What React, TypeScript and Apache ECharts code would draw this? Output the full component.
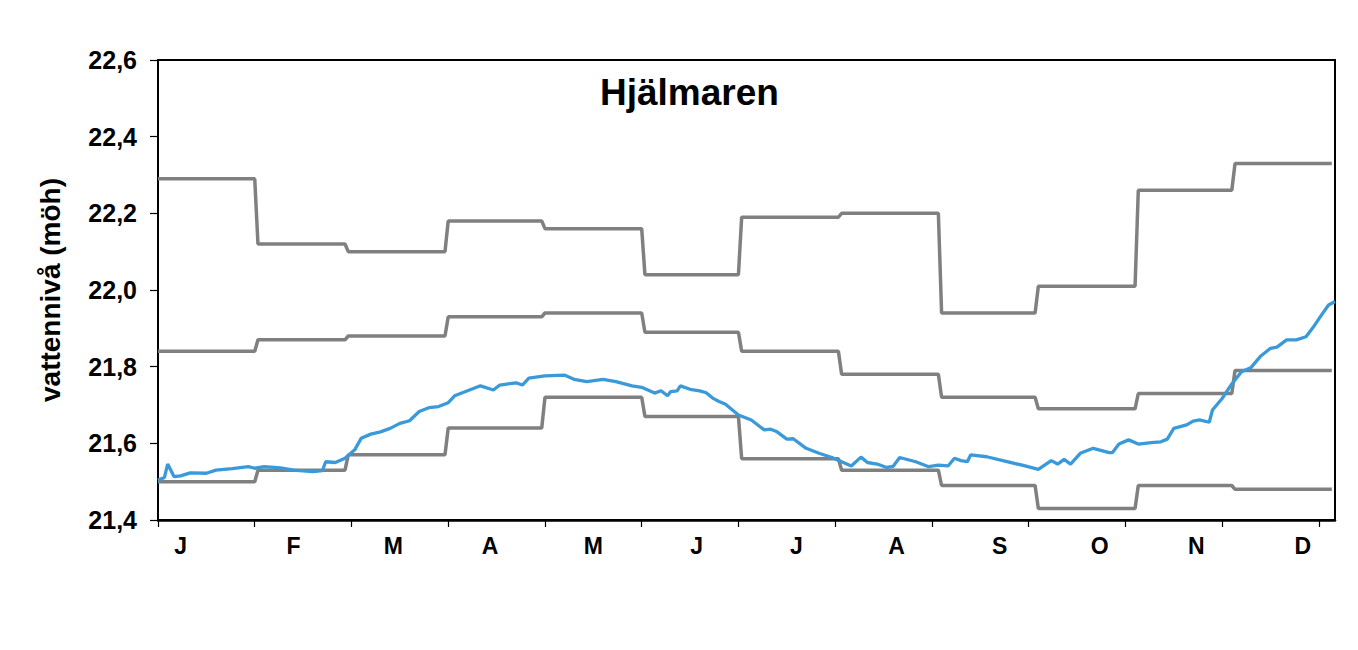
import React, { useEffect, useRef } from "react";
import * as echarts from "echarts";

const titleText = "Hjälmaren";
const yAxisName = "vattennivå (möh)";

// Day-of-year at which each month starts (non-leap year)
const monthStarts = [0, 31, 59, 90, 120, 151, 181, 212, 243, 273, 304, 334];
const yearEnd = 364;

// Monthly step values
const upperLevels = [22.29, 22.12, 22.10, 22.18, 22.16, 22.04, 22.19, 22.20, 21.94, 22.01, 22.26, 22.33];
const meanLevels = [21.84, 21.87, 21.88, 21.93, 21.94, 21.89, 21.84, 21.78, 21.72, 21.69, 21.73, 21.79];
const lowerLevels = [21.50, 21.53, 21.57, 21.64, 21.72, 21.67, 21.56, 21.53, 21.49, 21.43, 21.49, 21.48];

// Current year's daily level
const blueDays = [0, 2, 3, 5, 7, 10, 15, 18, 23, 28, 30, 33, 38, 42, 48, 51, 52, 55, 58, 61, 63, 66, 69, 72, 75, 78, 81, 84, 87, 90, 92, 96, 100, 104, 106, 111, 113, 115, 120, 126, 129, 133, 138, 142, 147, 150, 154, 156, 158, 159, 161, 162, 165, 168, 170, 172, 174, 176, 180, 184, 188, 190, 192, 195, 197, 201, 205, 209, 212, 215, 218, 220, 223, 226, 228, 230, 235, 239, 242, 245, 247, 249, 251, 252, 257, 262, 268, 273, 277, 279, 281, 283, 286, 290, 295, 296, 298, 301, 304, 308, 311, 313, 315, 319, 321, 323, 326, 327, 330, 333, 336, 339, 342, 345, 347, 350, 353, 356, 358, 361, 363, 365];
const blueLevels = [21.504, 21.511, 21.546, 21.513, 21.515, 21.523, 21.522, 21.530, 21.534, 21.539, 21.535, 21.539, 21.536, 21.530, 21.526, 21.529, 21.552, 21.550, 21.561, 21.583, 21.613, 21.624, 21.630, 21.639, 21.652, 21.659, 21.683, 21.693, 21.696, 21.706, 21.724, 21.737, 21.750, 21.739, 21.752, 21.758, 21.752, 21.770, 21.776, 21.778, 21.767, 21.761, 21.767, 21.761, 21.750, 21.746, 21.731, 21.737, 21.724, 21.735, 21.737, 21.750, 21.741, 21.737, 21.732, 21.718, 21.709, 21.702, 21.674, 21.661, 21.635, 21.637, 21.630, 21.611, 21.612, 21.587, 21.574, 21.563, 21.552, 21.541, 21.564, 21.550, 21.546, 21.537, 21.540, 21.563, 21.552, 21.539, 21.543, 21.541, 21.561, 21.555, 21.552, 21.570, 21.565, 21.555, 21.543, 21.532, 21.555, 21.546, 21.558, 21.546, 21.574, 21.587, 21.576, 21.576, 21.598, 21.609, 21.598, 21.602, 21.604, 21.611, 21.639, 21.648, 21.658, 21.661, 21.655, 21.687, 21.717, 21.755, 21.787, 21.798, 21.828, 21.848, 21.851, 21.870, 21.870, 21.878, 21.900, 21.937, 21.961, 21.970];

// Month labels and the day at which each is drawn
const monthLabels = ["J", "F", "M", "A", "M", "J", "J", "A", "S", "O", "N", "D"];
const monthLabelDays = [7, 42, 73, 103, 135, 167, 198, 229, 261, 292, 322, 355];

// Tick marks on the day axis
const tickDays = [0, 30, 60, 90, 120, 150, 180, 210, 240, 270, 300, 330, 360];

const X_MAX = 365;

function stepData(levels: number[]) {
  const out: number[][] = [];
  levels.forEach((v, i) => {
    const start = monthStarts[i];
    const end = i + 1 < monthStarts.length ? monthStarts[i + 1] - 1 : yearEnd;
    out.push([start, v]);
    out.push([end, v]);
  });
  return out;
}

export default function App() {
  const ref = useRef<HTMLDivElement>(null);
  useEffect(() => {
    if (!ref.current) return;
    const chart = echarts.init(ref.current, undefined, { renderer: "svg" });
    const dayCats = Array.from({ length: X_MAX + 1 }, (_, i) => String(i));
    const font = "'Liberation Sans', Arial, sans-serif";
    const gray = "#808080";
    chart.setOption({
      animation: false,
      backgroundColor: "#ffffff",
      grid: {
        left: 158,
        right: 23,
        top: 60,
        bottom: 130,
        show: true,
        borderColor: "#000",
        borderWidth: 2,
        backgroundColor: "transparent",
      },
      graphic: [
        {
          type: "text",
          left: 600,
          top: 74,
          style: {
            text: titleText,
            fontFamily: font,
            fontWeight: "bold",
            fontSize: 37,
            fill: "#000",
          },
        },
      ],
      xAxis: [
        {
          type: "value",
          min: 0,
          max: X_MAX,
          interval: 30,
          axisLine: { show: true, lineStyle: { color: "#000", width: 2.5 } },
          axisTick: {
            show: true,
            length: 7,
            customValues: tickDays,
            lineStyle: { color: "#000", width: 1.2 },
          },
          axisLabel: { show: false },
          splitLine: { show: false },
        },
        {
          type: "category",
          data: dayCats,
          boundaryGap: false,
          position: "bottom",
          axisLine: { show: false },
          axisTick: { show: false },
          splitLine: { show: false },
          axisLabel: {
            show: true,
            interval: (index: number) => monthLabelDays.indexOf(index) >= 0,
            formatter: (_v: string, index: number) => {
              const k = monthLabelDays.indexOf(index);
              return k >= 0 ? monthLabels[k] : "";
            },
            margin: 14,
            fontFamily: font,
            fontWeight: "bold",
            fontSize: 23,
            color: "#000",
          },
        },
      ],
      yAxis: {
        type: "value",
        min: 21.4,
        max: 22.6,
        interval: 0.2,
        name: yAxisName,
        nameLocation: "middle",
        nameGap: 94,
        nameTextStyle: {
          fontFamily: font,
          fontWeight: "bold",
          fontSize: 28,
          color: "#000",
        },
        axisLine: { show: true, lineStyle: { color: "#000", width: 2 } },
        axisTick: { show: true, length: 8, lineStyle: { color: "#000", width: 1.2 } },
        splitLine: { show: false },
        axisLabel: {
          margin: 21,
          fontFamily: font,
          fontWeight: "bold",
          fontSize: 25,
          color: "#000",
          formatter: (v: number) => v.toFixed(1).replace(".", ","),
        },
      },
      series: [
        {
          type: "line",
          name: "max",
          data: stepData(upperLevels),
          showSymbol: false,
          lineStyle: { color: gray, width: 3.5 },
          xAxisIndex: 0,
        },
        {
          type: "line",
          name: "medel",
          data: stepData(meanLevels),
          showSymbol: false,
          lineStyle: { color: gray, width: 3.5 },
          xAxisIndex: 0,
        },
        {
          type: "line",
          name: "min",
          data: stepData(lowerLevels),
          showSymbol: false,
          lineStyle: { color: gray, width: 3.5 },
          xAxisIndex: 0,
        },
        {
          type: "line",
          name: "2023",
          data: blueDays.map((d, i) => [d, blueLevels[i]]),
          showSymbol: false,
          lineStyle: { color: "#3a9ad9", width: 3.3 },
          xAxisIndex: 0,
          z: 3,
        },
      ],
    });
    return () => chart.dispose();
  }, []);
  return (
    <div
      ref={ref}
      style={{ position: "fixed", left: 0, top: 0, width: 1358, height: 650, background: "#fff" }}
    />
  );
}
